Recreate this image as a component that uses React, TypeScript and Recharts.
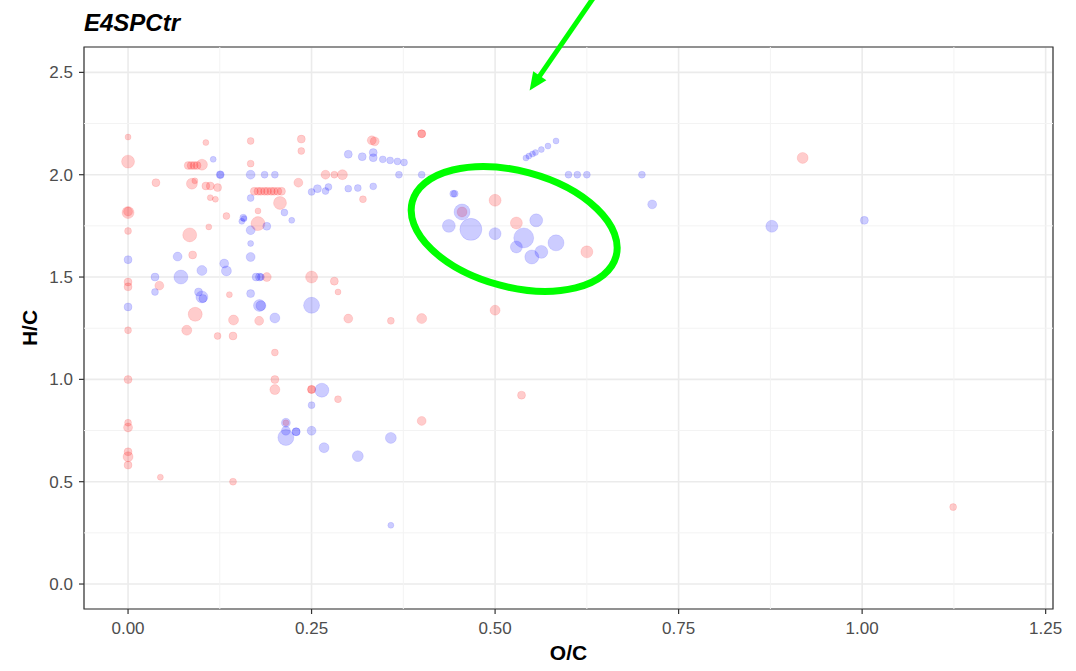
import {
  CartesianGrid,
  ReferenceArea,
  ReferenceDot,
  ReferenceLine,
  Scatter,
  ScatterChart,
  XAxis,
  YAxis,
  ZAxis,
} from 'recharts';

// [O/C, H/C, weight]
const redPoints: [number, number, number][] = [
  [0, 2.184, 9], [0, 2.064, 42], [0, 1.815, 36], [0, 1.82, 20], [0, 1.725, 12],
  [0, 1.476, 16], [0, 1.452, 16], [0, 1.24, 12], [0, 0.999, 16], [0, 0.788, 12],
  [0, 0.765, 20], [0, 0.646, 16], [0, 0.622, 25], [0, 0.581, 16],
  [0.106, 2.157, 9], [0.167, 2.165, 12],
  [0.082, 2.045, 16], [0.086, 2.045, 16], [0.09, 2.045, 16], [0.094, 2.045, 16], [0.1007, 2.049, 30],
  [0.167, 2.054, 12], [0.038, 1.961, 16], [0.087, 1.956, 30], [0.091, 1.97, 9],
  [0.106, 1.945, 16], [0.112, 1.945, 16], [0.122, 1.937, 16], [0.112, 1.888, 9], [0.119, 1.88, 9],
  [0.134, 1.798, 12], [0.11, 1.745, 9], [0.084, 1.706, 49],
  [0.172, 1.919, 16], [0.177, 1.919, 16], [0.181, 1.919, 16], [0.186, 1.919, 16], [0.19, 1.919, 16],
  [0.195, 1.919, 16], [0.199, 1.919, 16], [0.204, 1.919, 16], [0.209, 1.919, 16],
  [0.177, 1.823, 9], [0.177, 1.761, 49], [0.207, 1.862, 42], [0.088, 1.608, 16], [0.0426, 1.458, 20],
  [0.189, 1.5, 20], [0.138, 1.414, 9], [0.0915, 1.318, 49], [0.1437, 1.29, 25], [0.1786, 1.286, 20],
  [0.08, 1.24, 25], [0.122, 1.212, 12], [0.143, 1.212, 16], [0.2, 1.131, 12], [0.2, 0.999, 16],
  [0.2, 0.95, 25], [0.044, 0.522, 9], [0.143, 0.5, 12],
  [0.236, 2.174, 16], [0.236, 2.116, 12], [0.332, 2.168, 20], [0.336, 2.163, 20],
  [0.269, 2.0, 20], [0.281, 2.0, 12], [0.292, 2.0, 25], [0.232, 1.961, 20], [0.32, 1.88, 12],
  [0.25, 1.5, 36], [0.281, 1.48, 16], [0.286, 1.427, 9], [0.3, 1.297, 20], [0.358, 1.286, 12],
  [0.4, 1.297, 25], [0.25, 0.951, 16], [0.25, 0.951, 16], [0.286, 0.903, 12], [0.4, 0.797, 20],
  [0.215, 0.788, 9], [0.4, 2.2, 16], [0.4, 2.2, 16], [0.5, 1.875, 36], [0.455, 1.818, 25],
  [0.529, 1.764, 36], [0.625, 1.623, 36], [0.5, 1.338, 25], [0.536, 0.923, 16],
  [0.919, 2.082, 30], [1.124, 0.376, 12],
];

const bluePoints: [number, number, number][] = [
  [0.116, 2.075, 9], [0.1256, 2.0, 16], [0.1256, 2.0, 12], [0.167, 2.0, 20], [0.186, 2.0, 12],
  [0.2, 2.0, 12], [0.167, 1.886, 12], [0.157, 1.79, 12], [0.155, 1.772, 9], [0.158, 1.785, 9],
  [0.189, 1.748, 16], [0.167, 1.729, 20], [0.167, 1.664, 9], [0.0675, 1.6, 20], [0, 1.585, 16],
  [0.1006, 1.532, 25], [0.131, 1.566, 20], [0.134, 1.53, 25], [0.167, 1.598, 20], [0.0367, 1.5, 16],
  [0.072, 1.5, 49], [0.0367, 1.427, 12], [0.096, 1.427, 16], [0.1006, 1.403, 36], [0.102, 1.395, 16],
  [0.1745, 1.5, 16], [0.179, 1.5, 16], [0.181, 1.5, 12], [0.167, 1.419, 16], [0.179, 1.361, 36],
  [0.181, 1.36, 25], [0, 1.354, 16], [0.2, 1.3, 25],
  [0.3, 2.1, 16], [0.319, 2.088, 16], [0.334, 2.108, 16], [0.334, 2.083, 16], [0.347, 2.075, 12],
  [0.357, 2.07, 12], [0.367, 2.065, 12], [0.376, 2.06, 12], [0.369, 2.0, 12], [0.4, 2.0, 12],
  [0.25, 1.916, 12], [0.258, 1.932, 16], [0.269, 1.92, 12], [0.273, 1.94, 12], [0.3, 1.932, 12],
  [0.313, 1.935, 12], [0.334, 1.943, 12], [0.213, 1.815, 12], [0.223, 1.777, 9], [0.25, 1.362, 64],
  [0.264, 0.947, 49], [0.25, 0.874, 12], [0.215, 0.788, 20], [0.215, 0.749, 20], [0.229, 0.744, 16],
  [0.229, 0.744, 16], [0.215, 0.716, 64], [0.25, 0.749, 20], [0.267, 0.666, 25], [0.313, 0.625, 30],
  [0.358, 0.714, 30], [0.358, 0.287, 9],
  [0.542, 2.082, 9], [0.546, 2.091, 9], [0.551, 2.101, 9], [0.555, 2.108, 9], [0.563, 2.123, 9],
  [0.572, 2.14, 9], [0.583, 2.165, 9], [0.6, 2.0, 12], [0.612, 2.0, 12], [0.625, 2.0, 12],
  [0.7, 2.0, 12], [0.443, 1.907, 12], [0.445, 1.907, 12], [0.455, 1.818, 64], [0.714, 1.855, 20],
  [0.437, 1.75, 42], [0.467, 1.733, 121], [0.5, 1.712, 36], [0.556, 1.777, 42], [0.539, 1.691, 100],
  [0.529, 1.647, 36], [0.55, 1.598, 49], [0.563, 1.623, 42], [0.583, 1.667, 64], [0.877, 1.748, 36],
  [1.003, 1.777, 16],
];

const xTicks = [0, 0.25, 0.5, 0.75, 1, 1.25];
const yTicks = [0, 0.5, 1, 1.5, 2, 2.5];
const xMinor = [0.125, 0.375, 0.625, 0.875, 1.125];
const yMinor = [0.25, 0.75, 1.25, 1.75, 2.25];
const xDomain: [number, number] = [-0.06, 1.26];
const yDomain: [number, number] = [-0.122, 2.624];

// circled cluster and arrow tip (in data units)
const highlight = { oc: 0.526, hc: 1.735 };
const arrowTip = { oc: 0.547, hc: 2.411 };

const toRows = (pts: [number, number, number][]) => pts.map(([oc, hc, n]) => ({ oc, hc, n }));

const font = '"Liberation Sans", Arial, Helvetica, sans-serif';
const tickStyle = { fill: '#4d4d4d', fontSize: 17, fontFamily: font };
const green = '#00ff00';

function Ellipse({ cx, cy }: { cx?: number; cy?: number }) {
  if (cx == null || cy == null) return null;
  return (
    <ellipse
      cx={cx}
      cy={cy}
      rx={105.5}
      ry={58}
      transform={`rotate(15 ${cx} ${cy})`}
      fill="none"
      stroke={green}
      strokeWidth={7}
    />
  );
}

function Arrow({ cx, cy }: { cx?: number; cy?: number }) {
  if (cx == null || cy == null) return null;
  const dx = -64;
  const dy = 93;
  const len = Math.hypot(dx, dy);
  const ux = dx / len;
  const uy = dy / len;
  const head = 18;
  const half = 8;
  const bx = cx - ux * head;
  const by = cy - uy * head;
  return (
    <g>
      <line x1={cx - dx} y1={cy - dy} x2={bx + ux * 2} y2={by + uy * 2} stroke={green} strokeWidth={5} />
      <polygon
        points={`${cx},${cy} ${bx + uy * half},${by - ux * half} ${bx - uy * half},${by + ux * half}`}
        fill={green}
      />
    </g>
  );
}

export default function App() {
  return (
    <div style={{ position: 'absolute', left: 0, top: 0, width: 1076, height: 671, background: '#fff', fontFamily: font }}>
      <div
        style={{
          position: 'absolute',
          left: 84,
          top: 11,
          fontSize: 24,
          lineHeight: '24px',
          fontWeight: 'bold',
          fontStyle: 'italic',
          color: '#000',
        }}
      >
        E4SPCtr
      </div>
      <ScatterChart width={1076} height={671} margin={{ top: 47, right: 23, bottom: 26, left: 24 }}>
        <CartesianGrid stroke="#ebebeb" strokeWidth={1.6} />
        {xMinor.map((v) => (
          <ReferenceLine key={`xm${v}`} x={v} stroke="#f3f3f3" strokeWidth={1} />
        ))}
        {yMinor.map((v) => (
          <ReferenceLine key={`ym${v}`} y={v} stroke="#f3f3f3" strokeWidth={1} />
        ))}
        <XAxis
          type="number"
          dataKey="oc"
          domain={xDomain}
          allowDataOverflow
          ticks={xTicks}
          tickFormatter={(v: number) => v.toFixed(2)}
          tick={tickStyle}
          tickLine={{ stroke: '#333', strokeWidth: 1.2 }}
          tickSize={5}
          tickMargin={8}
          axisLine={false}
          height={36}
          label={{ value: 'O/C', position: 'bottom', offset: 0, style: { fontSize: 21, fontWeight: 'bold', fill: '#000', fontFamily: font } }}
        />
        <YAxis
          type="number"
          dataKey="hc"
          domain={yDomain}
          allowDataOverflow
          ticks={yTicks}
          tickFormatter={(v: number) => v.toFixed(1)}
          tick={tickStyle}
          tickLine={{ stroke: '#333', strokeWidth: 1.2 }}
          tickSize={5}
          tickMargin={6}
          axisLine={false}
          width={60}
          label={{
            value: 'H/C',
            angle: -90,
            position: 'insideLeft',
            offset: 6,
            style: { textAnchor: 'middle', fontSize: 21, fontWeight: 'bold', fill: '#000', fontFamily: font },
          }}
        />
        <ZAxis type="number" dataKey="n" domain={[0, 121]} range={[0, 121 * Math.PI]} />
        <ReferenceArea x1={xDomain[0]} x2={xDomain[1]} y1={yDomain[0]} y2={yDomain[1]} fill="none" stroke="#333" strokeWidth={1.2} />
        <Scatter
          data={toRows(redPoints)}
          fill="#ff0000"
          fillOpacity={0.2}
          stroke="#ff0000"
          strokeOpacity={0.1}
          strokeWidth={1}
          isAnimationActive={false}
        />
        <Scatter
          data={toRows(bluePoints)}
          fill="#0000ff"
          fillOpacity={0.2}
          stroke="#0000ff"
          strokeOpacity={0.1}
          strokeWidth={1}
          isAnimationActive={false}
        />
        <ReferenceDot x={highlight.oc} y={highlight.hc} r={1} shape={(p: any) => <Ellipse cx={p.cx} cy={p.cy} />} ifOverflow="visible" />
        <ReferenceDot x={arrowTip.oc} y={arrowTip.hc} r={1} shape={(p: any) => <Arrow cx={p.cx} cy={p.cy} />} ifOverflow="visible" />
      </ScatterChart>
    </div>
  );
}
